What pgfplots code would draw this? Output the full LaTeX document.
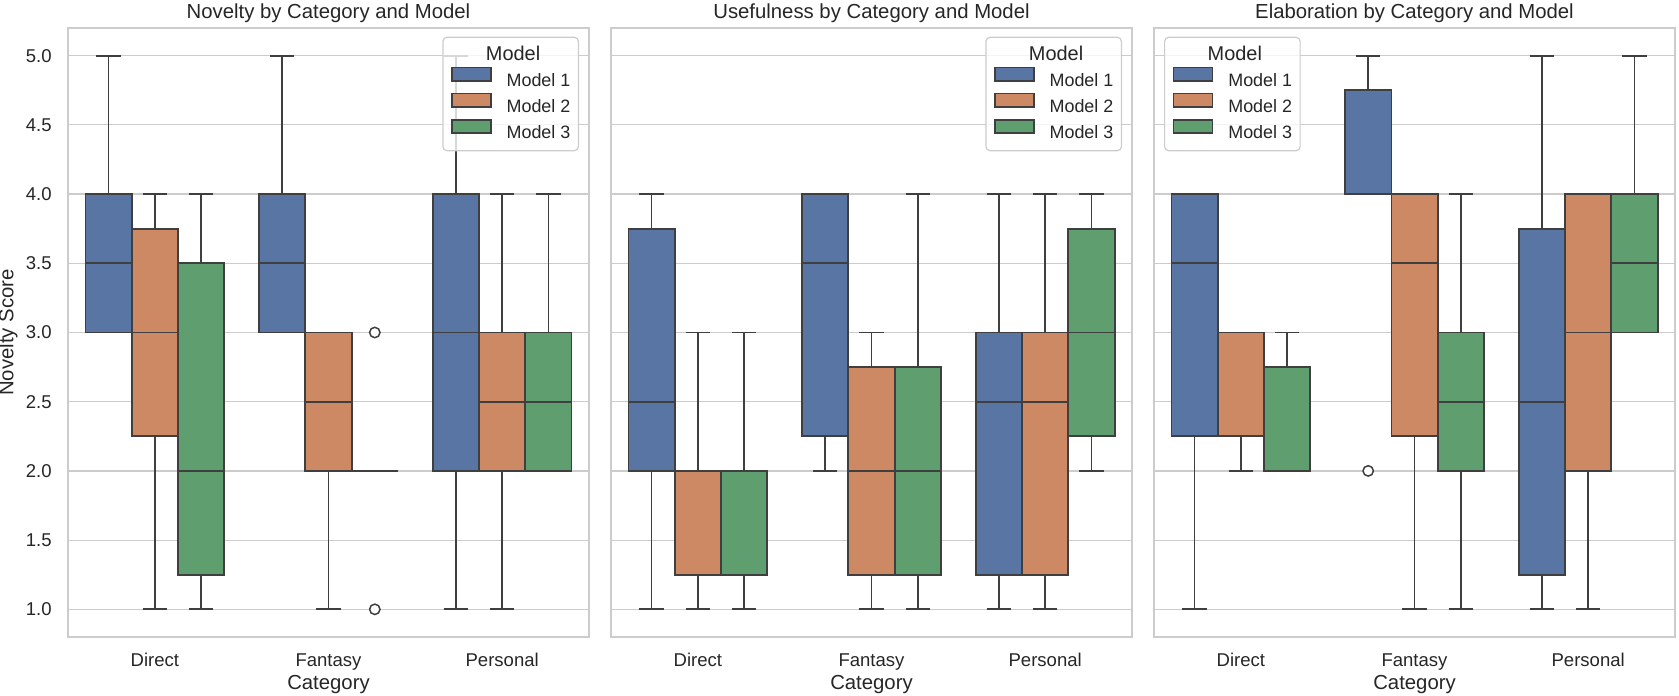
\documentclass[border=0pt]{standalone}
\usepackage{fontspec}
\setmainfont{Liberation Sans}
\usepackage{pgfplots}
\pgfplotsset{compat=1.18}
\usepgfplotslibrary{statistics}

\definecolor{mA}{HTML}{5875A4}
\definecolor{mB}{HTML}{CC8963}
\definecolor{mC}{HTML}{5F9E6E}
\definecolor{lc}{HTML}{3F3F3F}
\definecolor{gridc}{HTML}{CCCCCC}
\definecolor{txt}{HTML}{262626}

\newcommand{\tickfont}{\fontsize{9.3}{11}\selectfont}
\newcommand{\labfont}{\fontsize{10.2}{12}\selectfont}
\newcommand{\legfont}{\fontsize{9}{10}\selectfont}

\pgfplotsset{
  % one box: position, colour, lower whisker, Q1, median, Q3, upper whisker
  bp/.style n args={7}{
    boxplot prepared={draw direction=y, draw position=#1, lower whisker=#3,
      lower quartile=#4, median=#5, upper quartile=#6, upper whisker=#7,
      box extend=0.2667, whisker extend=0.14},
    draw=lc, fill=#2, line width=0.85bp, solid, forget plot,
    mark=*, mark size=2.6bp,
    mark options={fill=white, draw=lc, line width=0.75bp}},
  patch/.style={legend image code/.code={
    \draw[sharp corners, fill=#1, fill opacity=1, draw=lc, line width=0.85bp]
      (0bp,0bp) rectangle (19.5bp,6.7bp);}},
  every axis title/.style={at={(0.5,1)}, anchor=base, yshift=4.7bp,
      inner sep=0pt, font=\labfont, text=txt},
  panel/.style={
    scale only axis, width=260.5bp, height=304.5bp,
    anchor=south west,
    xmin=-0.5, xmax=2.5, ymin=0.8, ymax=5.2,
    xtick={0,1,2}, xticklabels={Direct,Fantasy,Personal},
    ytick={1,1.5,2,2.5,3,3.5,4,4.5,5},
    major tick length=0,
    ymajorgrids,
    grid style={gridc, line width=0.6bp},
    axis line style={gridc, line width=0.8bp},
    tick label style={font=\tickfont, text=txt},
    xticklabel style={anchor=base, inner sep=0pt, yshift=-14.5bp},
    yticklabel style={anchor=east, inner sep=0pt, xshift=-8bp,
      /pgf/number format/fixed, /pgf/number format/fixed zerofill,
      /pgf/number format/precision=1},
    /pgf/number format/assume math mode=true,
    xlabel={Category},
    xlabel style={at={(axis description cs:0.5,-0.087)}, anchor=base,
      inner sep=0pt, font=\labfont, text=txt},
    legend cell align=left,
    legend style={draw=gridc, line width=0.6bp, rounded corners=2bp,
      fill=white, fill opacity=0.8, draw opacity=1, text opacity=1,
      font=\legfont, text=txt, inner xsep=4bp, inner ysep=4.2bp,
      column sep=7.5bp, row sep=1.3bp,
      nodes={inner sep=0pt, text height=7.2bp, text depth=2bp}},
  },
}

\newcommand{\modellegend}{%
  \addlegendimage{legend image code/.code={}}
  \addlegendentry{\hspace*{3.25bp}\makebox[0pt]{\fontsize{10}{12}\selectfont Model}}
  \addlegendimage{patch=mA}\addlegendentry{Model 1}
  \addlegendimage{patch=mB}\addlegendentry{Model 2}
  \addlegendimage{patch=mC}\addlegendentry{Model 3}
}

\begin{document}
\begin{tikzpicture}
\path[use as bounding box] (-34bp,-29.5bp) rectangle (805.5bp,318.5bp);

% ---- Novelty ----
\begin{axis}[panel, at={(0bp,0bp)},
  title={Novelty by Category and Model},
  ylabel={Novelty Score},
  ylabel style={at={(axis description cs:-0.115,0.5)}, anchor=center,
    inner sep=0pt, font=\labfont, text=txt},
  legend style={at={(1,1)}, anchor=north east, xshift=-5bp, yshift=-4.35bp}]
\addplot[bp={-0.2667}{mA}{3}{3}{3.5}{4}{5}] coordinates {};
\addplot[bp={0}{mB}{1}{2.25}{3}{3.75}{4}] coordinates {};
\addplot[bp={0.2667}{mC}{1}{1.25}{2}{3.5}{4}] coordinates {};
\addplot[bp={0.7333}{mA}{3}{3}{3.5}{4}{5}] coordinates {};
\addplot[bp={1}{mB}{1}{2}{2.5}{3}{3}] coordinates {};
\addplot[bp={1.2667}{mC}{2}{2}{2}{2}{2}] table[row sep=\\, y index=0] {3\\ 1\\};
\addplot[bp={1.7333}{mA}{1}{2}{3}{4}{5}] coordinates {};
\addplot[bp={2}{mB}{1}{2}{2.5}{3}{4}] coordinates {};
\addplot[bp={2.2667}{mC}{2}{2}{2.5}{3}{4}] coordinates {};
\modellegend
\end{axis}

% ---- Usefulness ----
\begin{axis}[panel, at={(271.5bp,0bp)},
  title={Usefulness by Category and Model},
  yticklabels={},
  legend style={at={(1,1)}, anchor=north east, xshift=-5bp, yshift=-4.35bp}]
\addplot[bp={-0.2667}{mA}{1}{2}{2.5}{3.75}{4}] coordinates {};
\addplot[bp={0}{mB}{1}{1.25}{2}{2}{3}] coordinates {};
\addplot[bp={0.2667}{mC}{1}{1.25}{2}{2}{3}] coordinates {};
\addplot[bp={0.7333}{mA}{2}{2.25}{3.5}{4}{4}] coordinates {};
\addplot[bp={1}{mB}{1}{1.25}{2}{2.75}{3}] coordinates {};
\addplot[bp={1.2667}{mC}{1}{1.25}{2}{2.75}{4}] coordinates {};
\addplot[bp={1.7333}{mA}{1}{1.25}{2.5}{3}{4}] coordinates {};
\addplot[bp={2}{mB}{1}{1.25}{2.5}{3}{4}] coordinates {};
\addplot[bp={2.2667}{mC}{2}{2.25}{3}{3.75}{4}] coordinates {};
\modellegend
\end{axis}

% ---- Elaboration ----
\begin{axis}[panel, at={(543bp,0bp)},
  title={Elaboration by Category and Model},
  yticklabels={},
  legend style={at={(0,1)}, anchor=north west, xshift=5bp, yshift=-4.35bp}]
\addplot[bp={-0.2667}{mA}{1}{2.25}{3.5}{4}{4}] coordinates {};
\addplot[bp={0}{mB}{2}{2.25}{3}{3}{3}] coordinates {};
\addplot[bp={0.2667}{mC}{2}{2}{2}{2.75}{3}] coordinates {};
\addplot[bp={0.7333}{mA}{4}{4}{4}{4.75}{5}] table[row sep=\\, y index=0] {2\\};
\addplot[bp={1}{mB}{1}{2.25}{3.5}{4}{4}] coordinates {};
\addplot[bp={1.2667}{mC}{1}{2}{2.5}{3}{4}] coordinates {};
\addplot[bp={1.7333}{mA}{1}{1.25}{2.5}{3.75}{5}] coordinates {};
\addplot[bp={2}{mB}{1}{2}{3}{4}{4}] coordinates {};
\addplot[bp={2.2667}{mC}{3}{3}{3.5}{4}{5}] coordinates {};
\modellegend
\end{axis}
\end{tikzpicture}
\end{document}
